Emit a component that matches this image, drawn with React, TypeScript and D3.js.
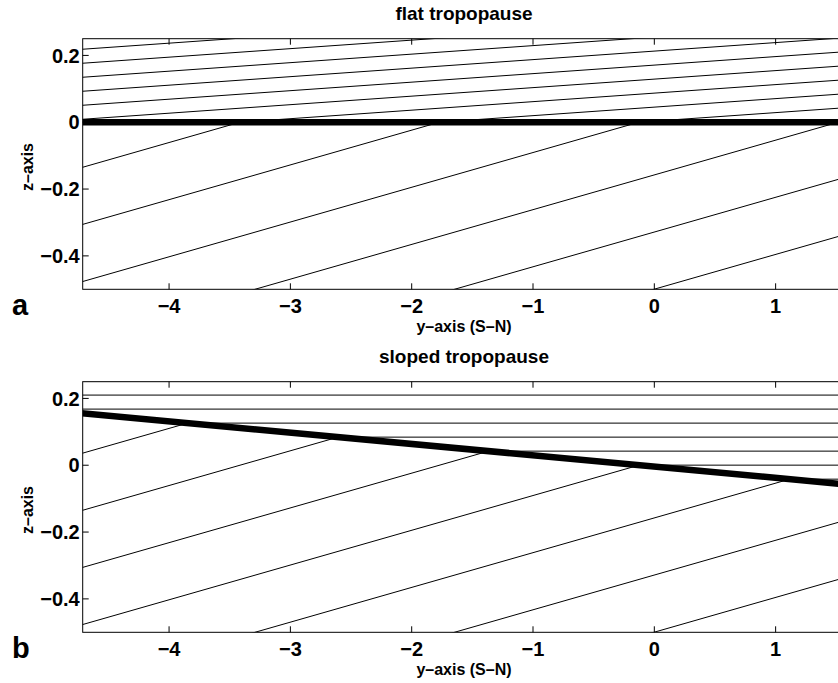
import React from "react";
import * as d3 from "d3";

// ---- data ----
const xTicks = [-4, -3, -2, -1, 0, 1];
const zTicks = [-0.4, -0.2, 0, 0.2];
const xDomain = [-4.712, 1.571];
const zDomain = [-0.5, 0.25];
// y-positions where each isentrope meets z = 0 (troposphere branch)
const isentropeY0 = [-13.28, -11.636, -9.992, -8.348, -6.704, -5.06, -3.416, -1.772, -0.128, 1.516, 3.16, 4.804];
const tropSlope = 0.104; // dz/dy of tropospheric isentropes
const stratSlopeFlat = 0.0255; // dz/dy of stratospheric isentropes (panel a)
const tropopauseSlope = -0.0338; // sloped tropopause (panel b)
const tropopauseIntercept = -0.004;
const panelTitles = ["flat tropopause", "sloped tropopause"];
const panelLetters = ["a", "b"];

const W = 838;
const H = 683;
const LEFT = 82.7;
const RIGHT = 844.9;
const panelTops = [38.7, 381.7];
const PH = 250.6;
const FONT = "'Liberation Sans', Arial, Helvetica, sans-serif";
const fmt = (v: number) => (v < 0 ? "\u2212" + String(Math.abs(v)) : String(v));

function Panel({ idx }: { idx: number }) {
  const top = panelTops[idx];
  const bottom = top + PH;
  const x = d3.scaleLinear().domain(xDomain).range([LEFT, RIGHT]);
  const z = d3.scaleLinear().domain(zDomain).range([bottom, top]);
  const line = d3
    .line<[number, number]>()
    .x((d) => x(d[0]))
    .y((d) => z(d[1]));
  const clipId = "clip" + idx;
  const yFar = 15;

  const isentropes: [number, number][][] = isentropeY0.map((y0) => {
    if (idx === 0) {
      return [
        [-yFar, tropSlope * (-yFar - y0)],
        [y0, 0],
        [yFar, stratSlopeFlat * (yFar - y0)],
      ];
    }
    const yi = (tropSlope * y0 + tropopauseIntercept) / (tropSlope - tropopauseSlope);
    const zi = tropopauseIntercept + tropopauseSlope * yi;
    return [
      [-yFar, tropSlope * (-yFar - y0)],
      [yi, zi],
      [yFar, zi],
    ];
  });

  const tropopause: [number, number][] =
    idx === 0
      ? [
          [-yFar, 0],
          [yFar, 0],
        ]
      : [
          [-yFar, tropopauseIntercept + tropopauseSlope * -yFar],
          [yFar, tropopauseIntercept + tropopauseSlope * yFar],
        ];

  return (
    <g>
      <defs>
        <clipPath id={clipId}>
          <rect x={LEFT} y={top} width={RIGHT - LEFT} height={PH} />
        </clipPath>
      </defs>
      <g clipPath={`url(#${clipId})`}>
        {isentropes.map((pts, i) => (
          <path key={i} d={line(pts) || ""} fill="none" stroke="#000" strokeWidth={1} />
        ))}
        <path d={line(tropopause) || ""} fill="none" stroke="#000" strokeWidth={6.5} />
      </g>
      <rect x={LEFT} y={top} width={RIGHT - LEFT} height={PH} fill="none" stroke="#000" strokeWidth={1} />
      {xTicks.map((t) => (
        <g key={"x" + t}>
          <line x1={x(t)} x2={x(t)} y1={top} y2={top + 6} stroke="#000" strokeWidth={1} />
          <line x1={x(t)} x2={x(t)} y1={bottom} y2={bottom - 6} stroke="#000" strokeWidth={1} />
          <text
            x={x(t)}
            y={bottom + 24}
            textAnchor="middle"
            fontFamily={FONT}
            fontWeight="bold"
            fontSize={20}
          >
            {fmt(t)}
          </text>
        </g>
      ))}
      {zTicks.map((t) => (
        <g key={"z" + t}>
          <line x1={LEFT} x2={LEFT + 6} y1={z(t)} y2={z(t)} stroke="#000" strokeWidth={1} />
          <text
            x={LEFT - 3}
            y={z(t)}
            dy="0.36em"
            textAnchor="end"
            fontFamily={FONT}
            fontWeight="bold"
            fontSize={20}
          >
            {fmt(t)}
          </text>
        </g>
      ))}
      <text
        x={464}
        y={top - 19}
        textAnchor="middle"
        fontFamily={FONT}
        fontWeight="bold"
        fontSize={19}
      >
        {panelTitles[idx]}
      </text>
      <text
        x={464}
        y={bottom + 43}
        textAnchor="middle"
        fontFamily={FONT}
        fontWeight="bold"
        fontSize={16}
      >
        y–axis (S–N)
      </text>
      <text
        transform={`translate(33, ${(top + bottom) / 2 + 3}) rotate(-90)`}
        textAnchor="middle"
        fontFamily={FONT}
        fontWeight="bold"
        fontSize={16}
      >
        z–axis
      </text>
      <text x={12} y={bottom + 26} fontFamily={FONT} fontWeight="bold" fontSize={29}>
        {panelLetters[idx]}
      </text>
    </g>
  );
}

export default function App() {
  return (
    <svg
      width={W}
      height={H}
      viewBox={`0 0 ${W} ${H}`}
      style={{ position: "absolute", left: 0, top: 0, background: "#fff" }}
    >
      <rect x={0} y={0} width={W} height={H} fill="#fff" />
      <Panel idx={0} />
      <Panel idx={1} />
    </svg>
  );
}
